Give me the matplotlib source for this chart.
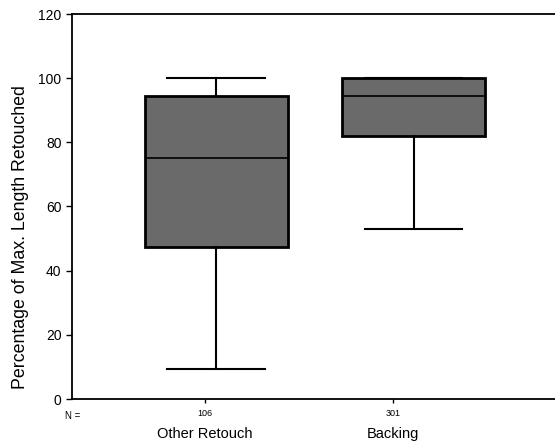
import matplotlib
matplotlib.use("Agg")
import matplotlib.pyplot as plt
import matplotlib.transforms as mtransforms

plt.rcParams['font.family'] = ['Liberation Sans', 'DejaVu Sans']

# data
groups = ["Other Retouch", "Backing"]
counts = [106, 301]
whis_lo = [9.5, 53]
q1 = [47.5, 82]
median = [75, 94.5]
q3 = [94.5, 100]
whis_hi = [100, 100]

stats = []
for i, g in enumerate(groups):
    stats.append(dict(label=g, whislo=whis_lo[i], q1=q1[i], med=median[i],
                      q3=q3[i], whishi=whis_hi[i], fliers=[]))

fig = plt.figure(figsize=(5.55, 4.44), dpi=100)
ax = fig.add_axes([72 / 555, 45 / 444, 1 - 72 / 555, 385 / 444])

bp = ax.bxp(stats, positions=[1.06, 2.11], widths=0.76, patch_artist=True,
            showfliers=False,
            boxprops=dict(facecolor="#6a6a6a", edgecolor="black", linewidth=2),
            medianprops=dict(color="black", linewidth=1.2),
            whiskerprops=dict(color="black", linewidth=1.5),
            capprops=dict(color="black", linewidth=1.5),
            capwidths=0.52)

ax.set_xlim(0.293, 2.862)
ax.set_ylim(0, 120)
ax.set_yticks(range(0, 121, 20))
ax.tick_params(axis='y', labelsize=10, length=4, width=1)
ax.set_xticks([1, 2])
ax.set_xticklabels([str(c) for c in counts], fontsize=6.5)
ax.tick_params(axis='x', length=3, width=1, pad=4)

ax.spines['right'].set_visible(False)
for s in ['left', 'top', 'bottom']:
    ax.spines[s].set_linewidth(1.3)

ax.set_ylabel("Percentage of Max. Length Retouched", fontsize=12.8)
ax.yaxis.set_label_coords(-0.088, 0.42)

ax.text(0.017, -0.043, "N =", transform=ax.transAxes, fontsize=7,
        ha='right', va='center')
trans = mtransforms.blended_transform_factory(ax.transData, ax.transAxes)
for i, g in enumerate(groups):
    ax.text(i + 1, -0.09, g, transform=trans, fontsize=10.5, ha='center',
            va='center')

fig.savefig("out.png", dpi=100)
